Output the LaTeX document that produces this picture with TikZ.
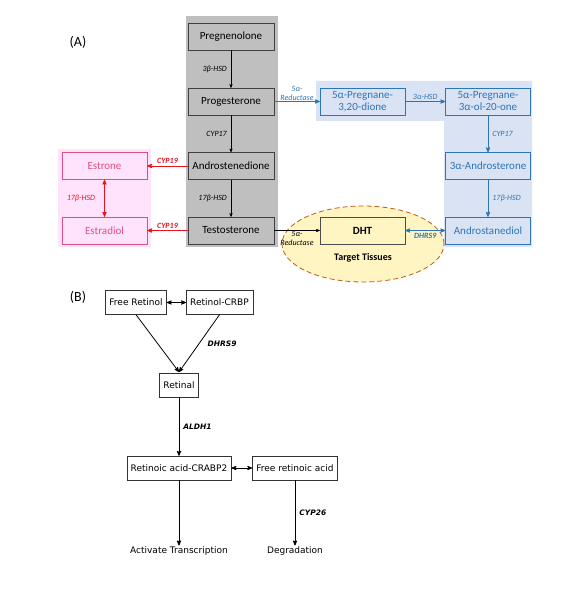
\documentclass[tikz,border=0pt]{standalone}
\usepackage{fontspec}
\setmainfont{Carlito}
\newfontfamily\retfont{DejaVu Sans}
\usetikzlibrary{arrows}
\definecolor{graybg}{HTML}{BFBFBF}
\definecolor{pinkbg}{HTML}{FFE3FD}
\definecolor{pinkline}{HTML}{E0507E}
\definecolor{redline}{HTML}{E8141E}
\definecolor{bluebg}{HTML}{DAE3F3}
\definecolor{blueline}{HTML}{2E75B6}
\definecolor{yellowbg}{HTML}{FFF5C2}
\definecolor{orangeline}{HTML}{C55A11}
\tikzset{
	stepnode/.style = {
		align=center,
		inner sep=0pt,
		text centered,
		font=\fontsize{11}{12}\selectfont,
		minimum height=27pt
	},
	node_gray/.style = {
		stepnode,
		rectangle,
		draw=black!75,
		fill=graybg,
		minimum width=86pt
	},
	node_pink/.style = {
		stepnode,
		rectangle,
		pinkline,
		draw=pinkline,
		fill=pinkbg,
		minimum width=85pt
	},
	node_blue/.style = {
		stepnode,
		rectangle,
		blueline,
		draw=blueline,
		fill=bluebg,
		minimum width=85pt
	},
	node_dht/.style = {
		stepnode,
		rectangle,
		draw=black!70,
		fill=yellowbg,
		font=\fontsize{11}{12}\selectfont\bfseries,
		minimum width=85pt
	},
	node_ret/.style = {
		align=center,
		inner xsep=4pt,
		inner ysep=3pt,
		rectangle,
		draw=black!80,
		font=\retfont\fontsize{9}{10}\selectfont,
		minimum height=24pt
	},
	node_end/.style = {
		align=center,
		inner sep=1pt,
		font=\retfont\fontsize{9}{10}\selectfont
	},
	enzyme/.style = {
		inner sep=1pt,
		font=\fontsize{8}{9}\selectfont\itshape
	},
	enzyme_b/.style = {
		inner sep=1pt,
		font=\fontsize{8}{9}\selectfont\bfseries\itshape
	},
	enzyme_ret/.style = {
		inner sep=1pt,
		font=\retfont\fontsize{7.5}{8.5}\selectfont\bfseries\itshape
	},
}

\begin{document}
\begin{tikzpicture}[x=1pt,y=-1pt,>=stealth']
\useasboundingbox (0,0) rectangle (583,612);
% backgrounds
\fill [graybg] (186,16) rectangle (278,247);
\fill [pinkbg] (58,149) rectangle (151,247);
\fill [bluebg] (316,81) -- (532,81) -- (532,247) -- (444,247) -- (444,121) -- (316,121) -- cycle;
\draw [orangeline, fill=yellowbg, dashed, thick, dash pattern=on 5pt off 3pt] (363,244) ellipse (81pt and 38pt);
\node [font=\fontsize{14}{16}\selectfont] (labA) at (78,42) {(A)};
% steroid pathway
\node [node_gray] (preg) at (231,36.5) {Pregnenolone};
\node [node_gray] (prog) at (231,101.5) {Progesterone};
\node [node_gray] (andro) at (231,166) {Androstenedione};
\node [node_gray] (testo) at (231,230.5) {Testosterone};
\node [node_pink] (estrone) at (104.5,166) {Estrone};
\node [node_pink] (estradiol) at (104.5,230.5) {Estradiol};
\node [node_blue] (dione) at (362.5,101.5) {5α-Pregnane-\\3,20-dione};
\node [node_blue] (olone) at (488,101.5) {5α-Pregnane-\\3α-ol-20-one};
\node [node_blue] (androst) at (488,166) {3α-Androsterone};
\node [node_blue] (androdiol) at (488,230.5) {Androstanediol};
\node [node_dht] (dht) at (362.5,230.5) {DHT};
\node [font=\fontsize{10}{11}\selectfont\bfseries] (tissue) at (363,258) {Target Tissues};
\draw [->, black] (preg) -- node [enzyme, left=3pt] {3β-HSD} (prog);
\draw [->, black] (prog) -- node [enzyme, left=3pt] {CYP17} (andro);
\draw [->, black] (andro) -- node [enzyme, left=3pt] {17β-HSD} (testo);
\draw [->, redline, thick] (andro) -- node [enzyme_b, above=1pt] {CYP19} (estrone);
\draw [->, redline, thick] (testo) -- node [enzyme_b, above=1pt] {CYP19} (estradiol);
\draw [<->, redline, thick] (estrone) -- node [enzyme, left=8pt] {17β-HSD} (estradiol);
\draw [->, blueline, thick] (prog) -- node [enzyme, above=0pt, align=center] {5α-\\Reductase} (dione);
\draw [->, blueline, thick] (dione) -- node [enzyme, above=1pt] {3α-HSD} (olone);
\draw [->, blueline, thick] (olone) -- node [enzyme, right=3pt] {CYP17} (androst);
\draw [->, blueline, thick] (androst) -- node [enzyme, right=3pt] {17β-HSD} (androdiol);
\draw [->, black] (testo) -- node [enzyme, below=0pt, align=center] {5α-\\Reductase} (dht);
\draw [<->, blueline, thick] (dht) -- node [enzyme_b, below=1pt] {DHRS9} (androdiol);
% retinol pathway
\node [font=\fontsize{14}{16}\selectfont] (labB) at (78,297) {(B)};
\node [node_ret] (freeret) at (136,302.5) {Free Retinol};
\node [node_ret] (crbp) at (219.5,302.5) {Retinol-CRBP};
\node [node_ret] (retinal) at (179,385) {Retinal};
\node [node_ret] (crabp) at (179,468) {Retinoic acid-CRABP2};
\node [node_ret] (freeacid) at (295,468) {Free retinoic acid};
\node [node_end] (activ) at (179,551) {Activate Transcription};
\node [node_end] (degr) at (295,551) {Degradation};
\coordinate (meet) at (179,372);
\draw [<->, thick] (freeret) -- (crbp);
\draw [->, thick] (freeret.south) -- (meet);
\draw [->, thick] (crbp.south) -- node [enzyme_ret, right=7pt] {DHRS9} (meet);
\draw [->, thick] (retinal) -- node [enzyme_ret, right=3pt] {ALDH1} (crabp);
\draw [<->, thick] (crabp) -- (freeacid);
\draw [->, thick] (crabp) -- (activ);
\draw [->, thick] (freeacid) -- node [enzyme_ret, right=3pt] {CYP26} (degr);
\end{tikzpicture}
\end{document}
